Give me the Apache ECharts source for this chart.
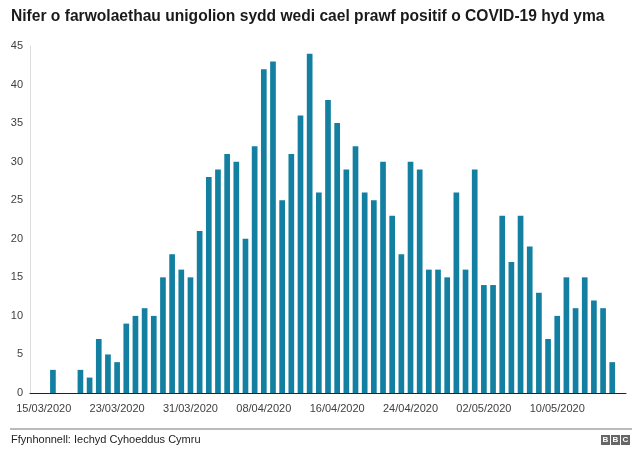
<!DOCTYPE html>
<html>
<head>
<meta charset="utf-8">
<script src="https://cdn.jsdelivr.net/npm/echarts@6/dist/echarts.min.js"></script>
<style>
  html, body { margin: 0; padding: 0; background: #fff; }
  #chart { width: 640px; height: 458px; }
</style>
</head>
<body>
<div id="chart"></div>
<script>
// dyddiadau (categories)
const dates = [
  '14/03/2020','15/03/2020','16/03/2020','17/03/2020','18/03/2020','19/03/2020','20/03/2020',
  '21/03/2020','22/03/2020','23/03/2020','24/03/2020','25/03/2020','26/03/2020','27/03/2020',
  '28/03/2020','29/03/2020','30/03/2020','31/03/2020',
  '01/04/2020','02/04/2020','03/04/2020','04/04/2020','05/04/2020','06/04/2020','07/04/2020',
  '08/04/2020','09/04/2020','10/04/2020','11/04/2020','12/04/2020','13/04/2020','14/04/2020',
  '15/04/2020','16/04/2020','17/04/2020','18/04/2020','19/04/2020','20/04/2020','21/04/2020',
  '22/04/2020','23/04/2020','24/04/2020','25/04/2020','26/04/2020','27/04/2020','28/04/2020',
  '29/04/2020','30/04/2020',
  '01/05/2020','02/05/2020','03/05/2020','04/05/2020','05/05/2020','06/05/2020','07/05/2020',
  '08/05/2020','09/05/2020','10/05/2020','11/05/2020','12/05/2020','13/05/2020','14/05/2020',
  '15/05/2020','16/05/2020','17/05/2020'
];
// marwolaethau y dydd
const deaths = [
  0, 0, 3, 0, 0, 3, 2, 7, 5, 4, 9, 10, 11, 10, 15, 18, 16, 15,
  21, 28, 29, 31, 30, 20, 32, 42, 43, 25, 31, 36, 44, 26, 38, 35, 29,
  32, 26, 25, 30, 23, 18, 30, 29, 16, 16, 15, 26, 16,
  29, 14, 14, 23, 17, 23, 19, 13, 7, 10, 15, 11, 15, 12, 11, 4, 0
];
const yTicks = [0, 5, 10, 15, 20, 25, 30, 35, 40, 45];

const chart = echarts.init(document.getElementById('chart'));
const option = {
  animation: false,
  title: {
    text: 'Nifer o farwolaethau unigolion sydd wedi cael prawf positif o COVID-19 hyd yma',
    left: 6,
    top: 4,
    textStyle: {
      fontFamily: 'Liberation Sans',
      fontWeight: 'bold',
      fontSize: 15.6,
      color: '#1a1a1a'
    }
  },
  grid: { left: 30, right: 14, top: 46, bottom: 65 },
  xAxis: {
    type: 'category',
    data: dates,
    axisLine: { lineStyle: { color: '#222', width: 1 } },
    axisTick: { show: false },
    axisLabel: {
      interval: function (idx) { return (idx - 1) % 8 === 0; },
      fontFamily: 'Liberation Sans',
      fontSize: 11,
      color: '#404040',
      margin: 10
    }
  },
  yAxis: {
    type: 'value',
    min: yTicks[0],
    max: yTicks[yTicks.length - 1],
    interval: 5,
    axisLine: { show: true, lineStyle: { color: '#ddd' } },
    axisTick: { show: false },
    splitLine: { show: false },
    axisLabel: {
      fontFamily: 'Liberation Sans',
      fontSize: 11,
      color: '#404040',
      margin: 7
    }
  },
  series: [{
    type: 'bar',
    data: deaths,
    barWidth: '62%',
    itemStyle: { color: '#1380a1' }
  }],
  graphic: [
    {
      type: 'line',
      shape: { x1: 10, y1: 429, x2: 632, y2: 429 },
      style: { stroke: '#777', lineWidth: 1 }
    },
    {
      type: 'text',
      left: 11,
      top: 434,
      style: {
        text: 'Ffynhonnell: Iechyd Cyhoeddus Cymru',
        font: '11px "Liberation Sans"',
        fill: '#222'
      }
    },
    { type: 'rect', shape: { x: 601, y: 435, width: 9, height: 10 }, style: { fill: '#666' } },
    { type: 'rect', shape: { x: 611, y: 435, width: 9, height: 10 }, style: { fill: '#666' } },
    { type: 'rect', shape: { x: 621, y: 435, width: 9, height: 10 }, style: { fill: '#666' } },
    { type: 'text', x: 605.5, y: 440, style: { text: 'B', font: 'bold 8px "Liberation Sans"', fill: '#fff', align: 'center', verticalAlign: 'middle' } },
    { type: 'text', x: 615.5, y: 440, style: { text: 'B', font: 'bold 8px "Liberation Sans"', fill: '#fff', align: 'center', verticalAlign: 'middle' } },
    { type: 'text', x: 625.5, y: 440, style: { text: 'C', font: 'bold 8px "Liberation Sans"', fill: '#fff', align: 'center', verticalAlign: 'middle' } }
  ]
};
chart.setOption(option);
</script>
</body>
</html>
